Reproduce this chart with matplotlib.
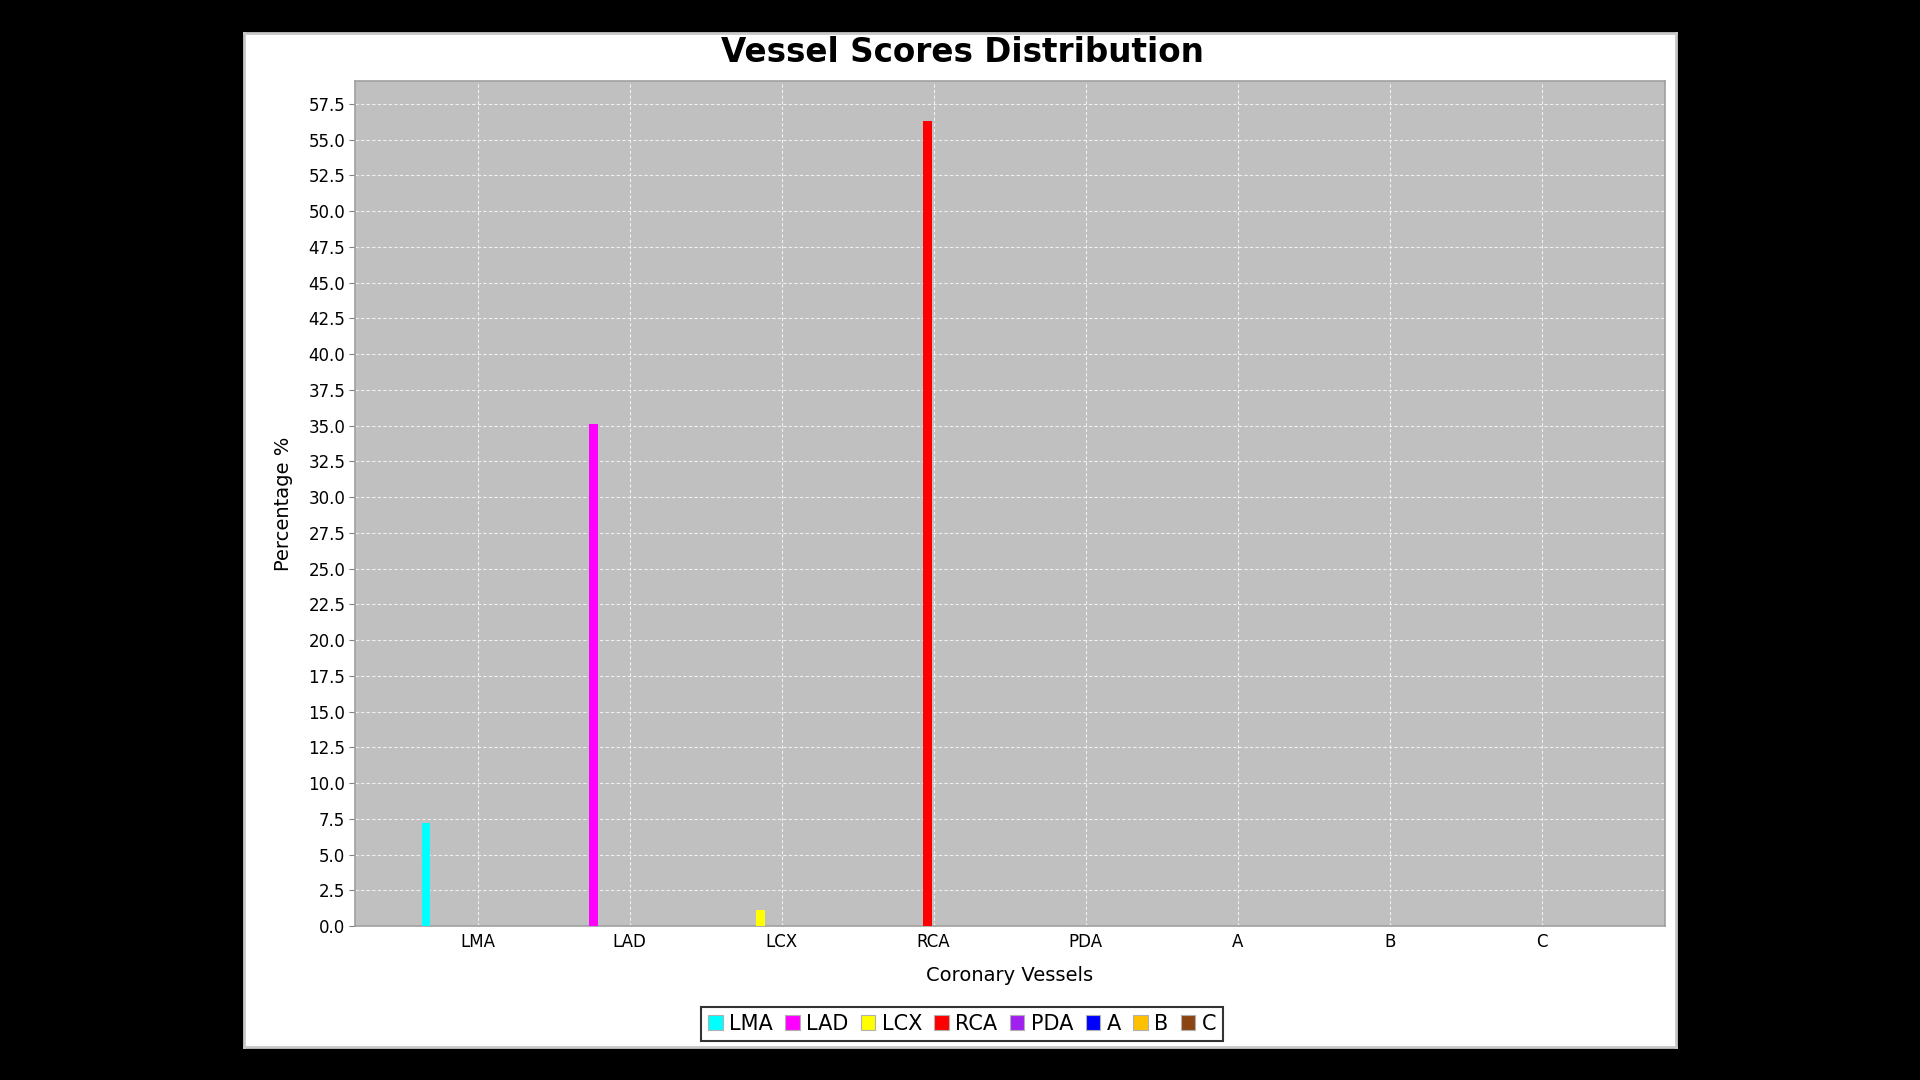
import numpy as np
import matplotlib
matplotlib.use("Agg")
import matplotlib.pyplot as plt
from matplotlib.patches import Patch

# data
categories = ["LMA", "LAD", "LCX", "RCA", "PDA", "A", "B", "C"]
series = ["LMA", "LAD", "LCX", "RCA", "PDA", "A", "B", "C"]
values = [7.2, 35.1, 1.1, 56.3, 0.0, 0.0, 0.0, 0.0]  # each series only has its own vessel
colors = ["#00ffff", "#ff00ff", "#ffff00", "#ff0000",
          "#a020f0", "#0000ff", "#ffc000", "#8b4513"]
yticks = np.arange(0, 57.6, 2.5)

fig = plt.figure(figsize=(19.2, 10.8), dpi=100, facecolor="black")

# white chart panel behind everything
panel = fig.add_axes([244 / 1920, 1 - 1047 / 1080, 1432 / 1920, 1014 / 1080], zorder=0)
panel.set_facecolor("white")
panel.set_xticks([])
panel.set_yticks([])
for s in panel.spines.values():
    s.set_color("#c8c8c8")
    s.set_linewidth(2)

ax = fig.add_axes([355 / 1920, 1 - 926 / 1080, 1310 / 1920, 845 / 1080], zorder=2)
ax.set_facecolor("#c0c0c0")

x = np.arange(len(categories))
step = 0.0993
width = 0.055
handles = []
for k, name in enumerate(series):
    vals = np.zeros(len(categories))
    vals[k] = values[k]
    ax.bar(x + (k - 3.5) * step + 0.01, vals, width=width, color=colors[k], zorder=3)
    handles.append(Patch(facecolor=colors[k], edgecolor="#b0b0b0", linewidth=0.8, label=name))

ax.set_xlim(-0.806, 7.81)
ax.set_ylim(0, 59.1)
ax.set_xticks(x)
ax.set_xticklabels(categories, fontsize=12)
ax.set_yticks(yticks)
ax.set_yticklabels(["%.1f" % v for v in yticks], fontsize=12)
ax.tick_params(axis="x", length=0, pad=5)
ax.tick_params(axis="y", length=4, color="#808080", pad=3)

ax.grid(True, color="#f0f0f0", linestyle=(0, (3, 2)), linewidth=0.8, zorder=1)
ax.set_axisbelow(True)
for s in ax.spines.values():
    s.set_color("#a0a0a0")
    s.set_linewidth(1.2)

ax.set_xlabel("Coronary Vessels", fontsize=14, labelpad=11)
ax.set_ylabel("Percentage %", fontsize=14, labelpad=11)
fig.text(962 / 1920, 1 - 52 / 1080, "Vessel Scores Distribution",
         fontsize=23.5, fontweight="bold", ha="center", va="center", zorder=3)

leg = fig.legend(handles=handles, loc="center", bbox_to_anchor=(962 / 1920, 1 - 1024 / 1080),
                 ncol=8, fontsize=15, frameon=True, fancybox=False, edgecolor="black",
                 handlelength=0.7, handleheight=0.7, handletextpad=0.3,
                 columnspacing=0.6, borderpad=0.35)
leg.set_zorder(3)
leg.get_frame().set_linewidth(1.5)

fig.savefig("out.png", dpi=100, facecolor="black")
